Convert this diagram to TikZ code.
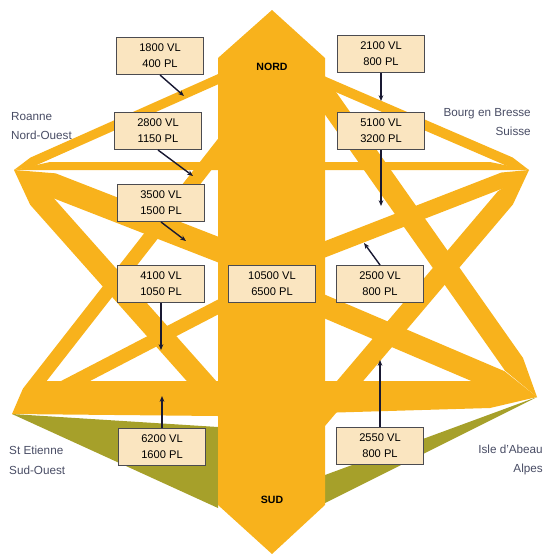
\documentclass[tikz,border=0pt]{standalone}
\usepackage{fontspec}
\setmainfont{Liberation Sans}
\usetikzlibrary{arrows.meta,calc}

\definecolor{flowyellow}{RGB}{248,178,28}
\definecolor{flowolive}{RGB}{166,160,42}
\definecolor{boxfill}{RGB}{250,229,192}
\definecolor{boxline}{RGB}{75,75,80}
\definecolor{citytext}{RGB}{72,76,100}
\definecolor{arrowcol}{RGB}{25,25,50}

% band: apex, far end, length of the pointed part, half width
\newcommand{\flowband}[4]{%
  \coordinate (bandneck) at ($(#1)!#3!(#2)$);
  \fill[flowyellow] (#1) -- ($(bandneck)!#4!90:(#2)$) -- ($(#2)!#4!-90:(bandneck)$)
    -- ($(#2)!#4!90:(bandneck)$) -- ($(bandneck)!#4!-90:(#2)$) -- cycle;}

\begin{document}
\begin{tikzpicture}[x=0.03cm,y=-0.03cm,>={Stealth[length=5pt,width=4pt]},
 count/.style={draw=boxline,line width=0.6pt,fill=boxfill,minimum width=2.62cm,
   minimum height=1.12cm,inner sep=0pt,align=center,
   font=\fontsize{9.5}{13.5}\selectfont},
 city/.style={text=citytext,inner sep=0pt,font=\fontsize{10}{17}\selectfont},
 pole/.style={inner sep=0pt,font=\fontsize{9}{11}\selectfont\bfseries},
 flow/.style={->,draw=arrowcol,line width=1.2pt}]
\useasboundingbox (0,0) rectangle (544,554);

% apexes of the four cities
\coordinate (roanne) at (14,170);
\coordinate (bourg) at (529,170);
\coordinate (etienne) at (12,414);
\coordinate (isle) at (537,397);

% band ends, hidden under the central axis
\coordinate (rnord) at (250,65);
\coordinate (bnord) at (295,69);
\coordinate (risle) at (245,260);
\coordinate (iroanne) at (300,296);
\coordinate (rsud) at (245,430);
\coordinate (bsud) at (300,440);
\coordinate (enord) at (240,122);
\coordinate (inord) at (305,67);
\coordinate (ebourg) at (245,293);
\coordinate (betienne) at (300,259);

% olive flows towards the south
\fill[flowolive] (etienne) -- (218,427) -- (218,508) -- cycle;
\fill[flowolive] (isle) -- (325,475) -- (325,503) -- cycle;

% yellow flows
\fill[flowyellow] (roanne) -- (50,162) -- (490,162) -- (bourg) -- (490,170)
  -- (50,170) -- cycle;
\fill[flowyellow] (etienne) -- (45,381) -- (490,381) -- (isle) -- (490,408)
  -- (218,416) -- cycle;
\flowband{roanne}{rnord}{0.6cm}{0.14cm}
\flowband{bourg}{bnord}{0.6cm}{0.15cm}
\flowband{roanne}{risle}{1.2cm}{0.36cm}
\flowband{isle}{iroanne}{1.2cm}{0.33cm}
\flowband{roanne}{rsud}{1.1cm}{0.33cm}
\flowband{bourg}{bsud}{1.1cm}{0.3cm}
\flowband{etienne}{enord}{0.8cm}{0.21cm}
\flowband{isle}{inord}{1.2cm}{0.33cm}
\flowband{etienne}{ebourg}{0.8cm}{0.2cm}
\flowband{bourg}{betienne}{0.8cm}{0.23cm}

% central axis
\fill[flowyellow] (218,58) -- (272,10) -- (325,58) -- (325,505) -- (272,554)
  -- (218,505) -- cycle;
\node[pole] (nord) at (272,67) {NORD};
\node[pole] (sud) at (272,500) {SUD};

% counts
\node[count] (c1800) at (160,56) {1800 VL\\400 PL};
\node[count] (c2800) at (158,131) {2800 VL\\1150 PL};
\node[count] (c3500) at (161,203) {3500 VL\\1500 PL};
\node[count] (c4100) at (161,284) {4100 VL\\1050 PL};
\node[count] (c6200) at (162,447) {6200 VL\\1600 PL};
\node[count] (c10500) at (272,284) {10500 VL\\6500 PL};
\node[count] (c2100) at (381,54) {2100 VL\\800 PL};
\node[count] (c5100) at (381,131) {5100 VL\\3200 PL};
\node[count] (c2500) at (380,284) {2500 VL\\800 PL};
\node[count] (c2550) at (380,446) {2550 VL\\800 PL};

% city names
\node[city,anchor=west,align=left] (nroanne) at (11,126) {Roanne\\Nord-Ouest};
\node[city,anchor=east,align=right] (nbourg) at (531,122) {Bourg en Bresse\\Suisse};
\node[city,anchor=west,align=left] (netienne) at (9,460) {St Etienne\\Sud-Ouest};
\node[city,anchor=east,align=right] (nisle) at (543,460) {Isle d'Abeau\\Alpes};

% pointers
\coordinate (t1800) at (184,96);
\coordinate (t2800) at (193,176);
\coordinate (t3500) at (186,241);
\coordinate (t4100) at (161,350);
\coordinate (t6200) at (162,396);
\coordinate (t2100) at (381,101);
\coordinate (t5100) at (381,206);
\coordinate (t2500) at (364,243);
\coordinate (t2550) at (380,360);
\draw[flow] (c1800.south) -- (t1800);
\draw[flow] (c2800.south) -- (t2800);
\draw[flow] (c3500.south) -- (t3500);
\draw[flow] (c4100.south) -- (t4100);
\draw[flow] (c6200.north) -- (t6200);
\draw[flow] (c2100.south) -- (t2100);
\draw[flow] (c5100.south) -- (t5100);
\draw[flow] (c2500.north) -- (t2500);
\draw[flow] (c2550.north) -- (t2550);
\end{tikzpicture}
\end{document}
